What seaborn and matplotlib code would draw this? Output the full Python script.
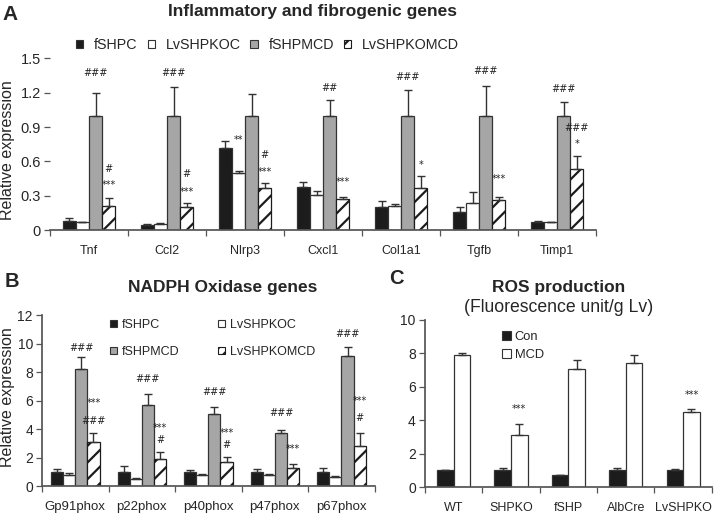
import numpy as np
import pandas as pd
import matplotlib
matplotlib.use("Agg")
import matplotlib.pyplot as plt
import seaborn as sns

sns.set_theme(style="white")
plt.rcParams['font.family'] = ['Liberation Sans', 'DejaVu Sans']
plt.rcParams['hatch.linewidth'] = 1.6

# ---------------- Panel A data ----------------
genes_A = ["Tnf", "Ccl2", "Nlrp3", "Cxcl1", "Col1a1", "Tgfb", "Timp1"]
groups_A = ["fSHPC", "LvSHPKOC", "fSHPMCD", "LvSHPKOMCD"]
fSHPC_A = [0.08, 0.045, 0.72, 0.38, 0.20, 0.16, 0.07]
fSHPC_A_err = [0.03, 0.01, 0.06, 0.04, 0.05, 0.04, 0.01]
LvSHPKOC_A = [0.07, 0.05, 0.50, 0.31, 0.21, 0.24, 0.07]
LvSHPKOC_A_err = [0.005, 0.01, 0.02, 0.03, 0.02, 0.09, 0.005]
fSHPMCD_A = [1.0, 1.0, 1.0, 1.0, 1.0, 1.0, 1.0]
fSHPMCD_A_err = [0.20, 0.25, 0.19, 0.14, 0.22, 0.26, 0.12]
LvSHPKOMCD_A = [0.21, 0.20, 0.37, 0.27, 0.37, 0.26, 0.53]
LvSHPKOMCD_A_err = [0.07, 0.04, 0.04, 0.02, 0.10, 0.03, 0.12]
annot_A = [("Tnf", 2, "###", 1.37), ("Tnf", 3, "#", 0.53), ("Tnf", 3, "***", 0.39),
           ("Ccl2", 2, "###", 1.37), ("Ccl2", 3, "#", 0.49), ("Ccl2", 3, "***", 0.33),
           ("Nlrp3", 1, "**", 0.785), ("Nlrp3", 3, "#", 0.66), ("Nlrp3", 3, "***", 0.51),
           ("Cxcl1", 2, "##", 1.245), ("Cxcl1", 3, "***", 0.42),
           ("Col1a1", 2, "###", 1.34), ("Col1a1", 3, "*", 0.57),
           ("Tgfb", 2, "###", 1.39), ("Tgfb", 3, "***", 0.445),
           ("Timp1", 2, "###", 1.235), ("Timp1", 3, "###", 0.895), ("Timp1", 3, "*", 0.75)]

# ---------------- Panel B data ----------------
genes_B = ["Gp91phox", "p22phox", "p40phox", "p47phox", "p67phox"]
groups_B = ["fSHPC", "LvSHPKOC", "fSHPMCD", "LvSHPKOMCD"]
fSHPC_B = [1.0, 1.0, 1.0, 1.0, 1.0]
fSHPC_B_err = [0.2, 0.38, 0.1, 0.2, 0.3]
LvSHPKOC_B = [0.8, 0.5, 0.75, 0.75, 0.65]
LvSHPKOC_B_err = [0.15, 0.1, 0.1, 0.1, 0.05]
fSHPMCD_B = [8.2, 5.7, 5.08, 3.75, 9.15]
fSHPMCD_B_err = [0.9, 0.8, 0.5, 0.2, 0.6]
LvSHPKOMCD_B = [3.07, 1.92, 1.66, 1.28, 2.85]
LvSHPKOMCD_B_err = [0.65, 0.5, 0.4, 0.27, 0.9]
annot_B = [("Gp91phox", 2, "###", 9.73), ("Gp91phox", 3, "***", 5.85), ("Gp91phox", 3, "###", 4.58),
           ("p22phox", 2, "###", 7.49), ("p22phox", 3, "***", 4.05), ("p22phox", 3, "#", 3.23),
           ("p40phox", 2, "###", 6.62), ("p40phox", 3, "***", 3.76), ("p40phox", 3, "#", 2.88),
           ("p47phox", 2, "###", 5.15), ("p47phox", 3, "***", 2.57),
           ("p67phox", 2, "###", 10.7), ("p67phox", 3, "***", 5.97), ("p67phox", 3, "#", 4.8)]

# ---------------- Panel C data ----------------
strains_C = ["WT", "SHPKO", "fSHP", "AlbCre", "LvSHPKO"]
groups_C = ["Con", "MCD"]
Con_C = [1.0, 1.03, 0.75, 1.05, 1.02]
Con_C_err = [0.0, 0.12, 0.0, 0.08, 0.08]
MCD_C = [7.9, 3.12, 7.05, 7.45, 4.5]
MCD_C_err = [0.12, 0.66, 0.55, 0.45, 0.2]
annot_C = [("SHPKO", 1, "***", 4.7), ("LvSHPKO", 1, "***", 5.5)]

BLACK = "#1c1c1c"
GRAY = "#a6a6a7"
EDGE = "#333333"


def long_df(cats, groups, vals, errs):
    rows = []
    for g, v, e in zip(groups, vals, errs):
        for c, vv, ee in zip(cats, v, e):
            rows.append({"cat": c, "group": g, "value": vv, "err": ee})
    return pd.DataFrame(rows)


def draw_panel(ax, df, cats, groups, palette, width, hatched, annots, afs, xfs):
    sns.barplot(data=df, x="cat", y="value", hue="group", order=cats, hue_order=groups,
                palette=palette, saturation=1, width=width, gap=0, errorbar=None,
                edgecolor=EDGE, linewidth=0.9, ax=ax, legend=False)
    conts = list(ax.containers)[:len(groups)]
    for gi, cont in enumerate(conts):
        sub = df[df["group"] == groups[gi]].set_index("cat").loc[cats]
        xs, ys = [], []
        for bar in cont:
            xs.append(bar.get_x() + bar.get_width() / 2)
            ys.append(bar.get_height())
            if gi in hatched:
                bar.set_hatch("//")
                bar.set_edgecolor(BLACK)
        ax.errorbar(xs, ys, yerr=[np.zeros(len(ys)), sub["err"].values], fmt="none",
                    ecolor=EDGE, elinewidth=1.0, capsize=3, capthick=1.0, zorder=3)
    for cat, gi, txt, y in annots:
        bar = conts[gi][cats.index(cat)]
        xc = bar.get_x() + bar.get_width() / 2
        ax.text(xc, y, txt, ha="center", va="center", fontsize=afs, color="#222222",
                family=["DejaVu Sans"])
    ax.set_xlim(-0.5, len(cats) - 0.5)
    ax.set_xlabel("")
    ax.set_ylabel("")
    ax.set_xticks(range(len(cats)))
    ax.set_xticklabels(cats, fontsize=xfs)
    ax.set_xticks(np.arange(-0.5, len(cats)), minor=True)
    ax.tick_params(axis="x", which="major", length=0, pad=11)
    ax.tick_params(axis="x", which="minor", length=4, width=0.9, color="#555555", direction="out", bottom=True)
    ax.tick_params(axis="y", which="major", length=4, width=0.9, color="#555555", direction="out",
                   left=True, pad=2.5)
    for s in ["top", "right"]:
        ax.spines[s].set_visible(False)
    ax.spines["bottom"].set_color("#555555")
    ax.spines["left"].set_color("#555555")
    return conts


def rect(fc, ec=EDGE, hatch=None):
    return plt.Rectangle((0, 0), 1, 1, facecolor=fc, edgecolor=ec, lw=0.8, hatch=hatch)


fig = plt.figure(figsize=(7.14, 5.16), dpi=100)

# Panel A
axA = fig.add_axes([0.070, 0.554, 0.765, 0.333])
dfA = long_df(genes_A, groups_A, [fSHPC_A, LvSHPKOC_A, fSHPMCD_A, LvSHPKOMCD_A],
              [fSHPC_A_err, LvSHPKOC_A_err, fSHPMCD_A_err, LvSHPKOMCD_A_err])
draw_panel(axA, dfA, genes_A, groups_A, [BLACK, "white", GRAY, "white"], 0.67, [3], annot_A, 7, 9)
axA.set_ylim(0, 1.5)
axA.set_yticks([0, 0.3, 0.6, 0.9, 1.2, 1.5])
axA.set_yticklabels(["0", "0.3", "0.6", "0.9", "1.2", "1.5"], fontsize=10.5)
axA.spines["left"].set_visible(False)
handlesA = [rect(BLACK), rect("white"), rect(GRAY), rect("white", BLACK, "///")]
axA.legend(handlesA, groups_A, ncol=4, loc="center left", bbox_to_anchor=(0.048, 1.076),
           frameon=False, fontsize=10.3, handlelength=0.5, handleheight=0.5,
           handletextpad=0.75, columnspacing=0.7, borderaxespad=0, borderpad=0)
fig.text(0.437, 0.977, "Inflammatory and fibrogenic genes", ha="center", va="center",
         fontsize=12.5, fontweight="bold")
fig.text(0.004, 0.972, "A", ha="left", va="center", fontsize=15, fontweight="bold")
fig.text(0.011, 0.709, "Relative expression", rotation=90, ha="center", va="center", fontsize=11.5)

# Panel B
axB = fig.add_axes([0.0588, 0.058, 0.466, 0.331])
dfB = long_df(genes_B, groups_B, [fSHPC_B, LvSHPKOC_B, fSHPMCD_B, LvSHPKOMCD_B],
              [fSHPC_B_err, LvSHPKOC_B_err, fSHPMCD_B_err, LvSHPKOMCD_B_err])
draw_panel(axB, dfB, genes_B, groups_B, [BLACK, "white", GRAY, "white"], 0.73, [3], annot_B, 7, 9.5)
axB.set_ylim(0, 12)
axB.set_yticks(range(0, 13, 2))
axB.set_yticklabels([str(v) for v in range(0, 13, 2)], fontsize=10)
handlesB = [rect(BLACK), rect(GRAY), rect("white"), rect("white", BLACK, "///")]
axB.legend(handlesB, [groups_B[0], groups_B[2], groups_B[1], groups_B[3]], ncol=2,
           loc="center left", bbox_to_anchor=(0.204, 0.865), frameon=False, fontsize=9,
           handlelength=0.55, handleheight=0.55, handletextpad=0.4, columnspacing=3.1,
           labelspacing=1.2, borderaxespad=0, borderpad=0)
fig.text(0.312, 0.442, "NADPH Oxidase genes", ha="center", va="center",
         fontsize=12.5, fontweight="bold")
fig.text(0.006, 0.455, "B", ha="left", va="center", fontsize=14.5, fontweight="bold")
fig.text(0.011, 0.231, "Relative expression", rotation=90, ha="center", va="center", fontsize=11.5)

# Panel C
axC = fig.add_axes([0.595, 0.056, 0.402, 0.324])
dfC = long_df(strains_C, groups_C, [Con_C, MCD_C], [Con_C_err, MCD_C_err])
draw_panel(axC, dfC, strains_C, groups_C, [BLACK, "white"], 0.58, [], annot_C, 7, 9)
axC.set_ylim(0, 10)
axC.set_yticks(range(0, 11, 2))
axC.set_yticklabels([str(v) for v in range(0, 11, 2)], fontsize=10)
handlesC = [rect(BLACK), rect("white")]
axC.legend(handlesC, groups_C, loc="center left", bbox_to_anchor=(0.268, 0.844), frameon=False,
           fontsize=9.3, handlelength=0.7, handleheight=0.7, handletextpad=0.3,
           labelspacing=0.4, borderaxespad=0, borderpad=0)
fig.text(0.782, 0.443, "ROS production", ha="center", va="center", fontsize=12.5, fontweight="bold")
fig.text(0.782, 0.405, "(Fluorescence unit/g Lv)", ha="center", va="center", fontsize=12.7)
fig.text(0.545, 0.461, "C", ha="left", va="center", fontsize=14.5, fontweight="bold")

fig.savefig("out.png", dpi=100)
